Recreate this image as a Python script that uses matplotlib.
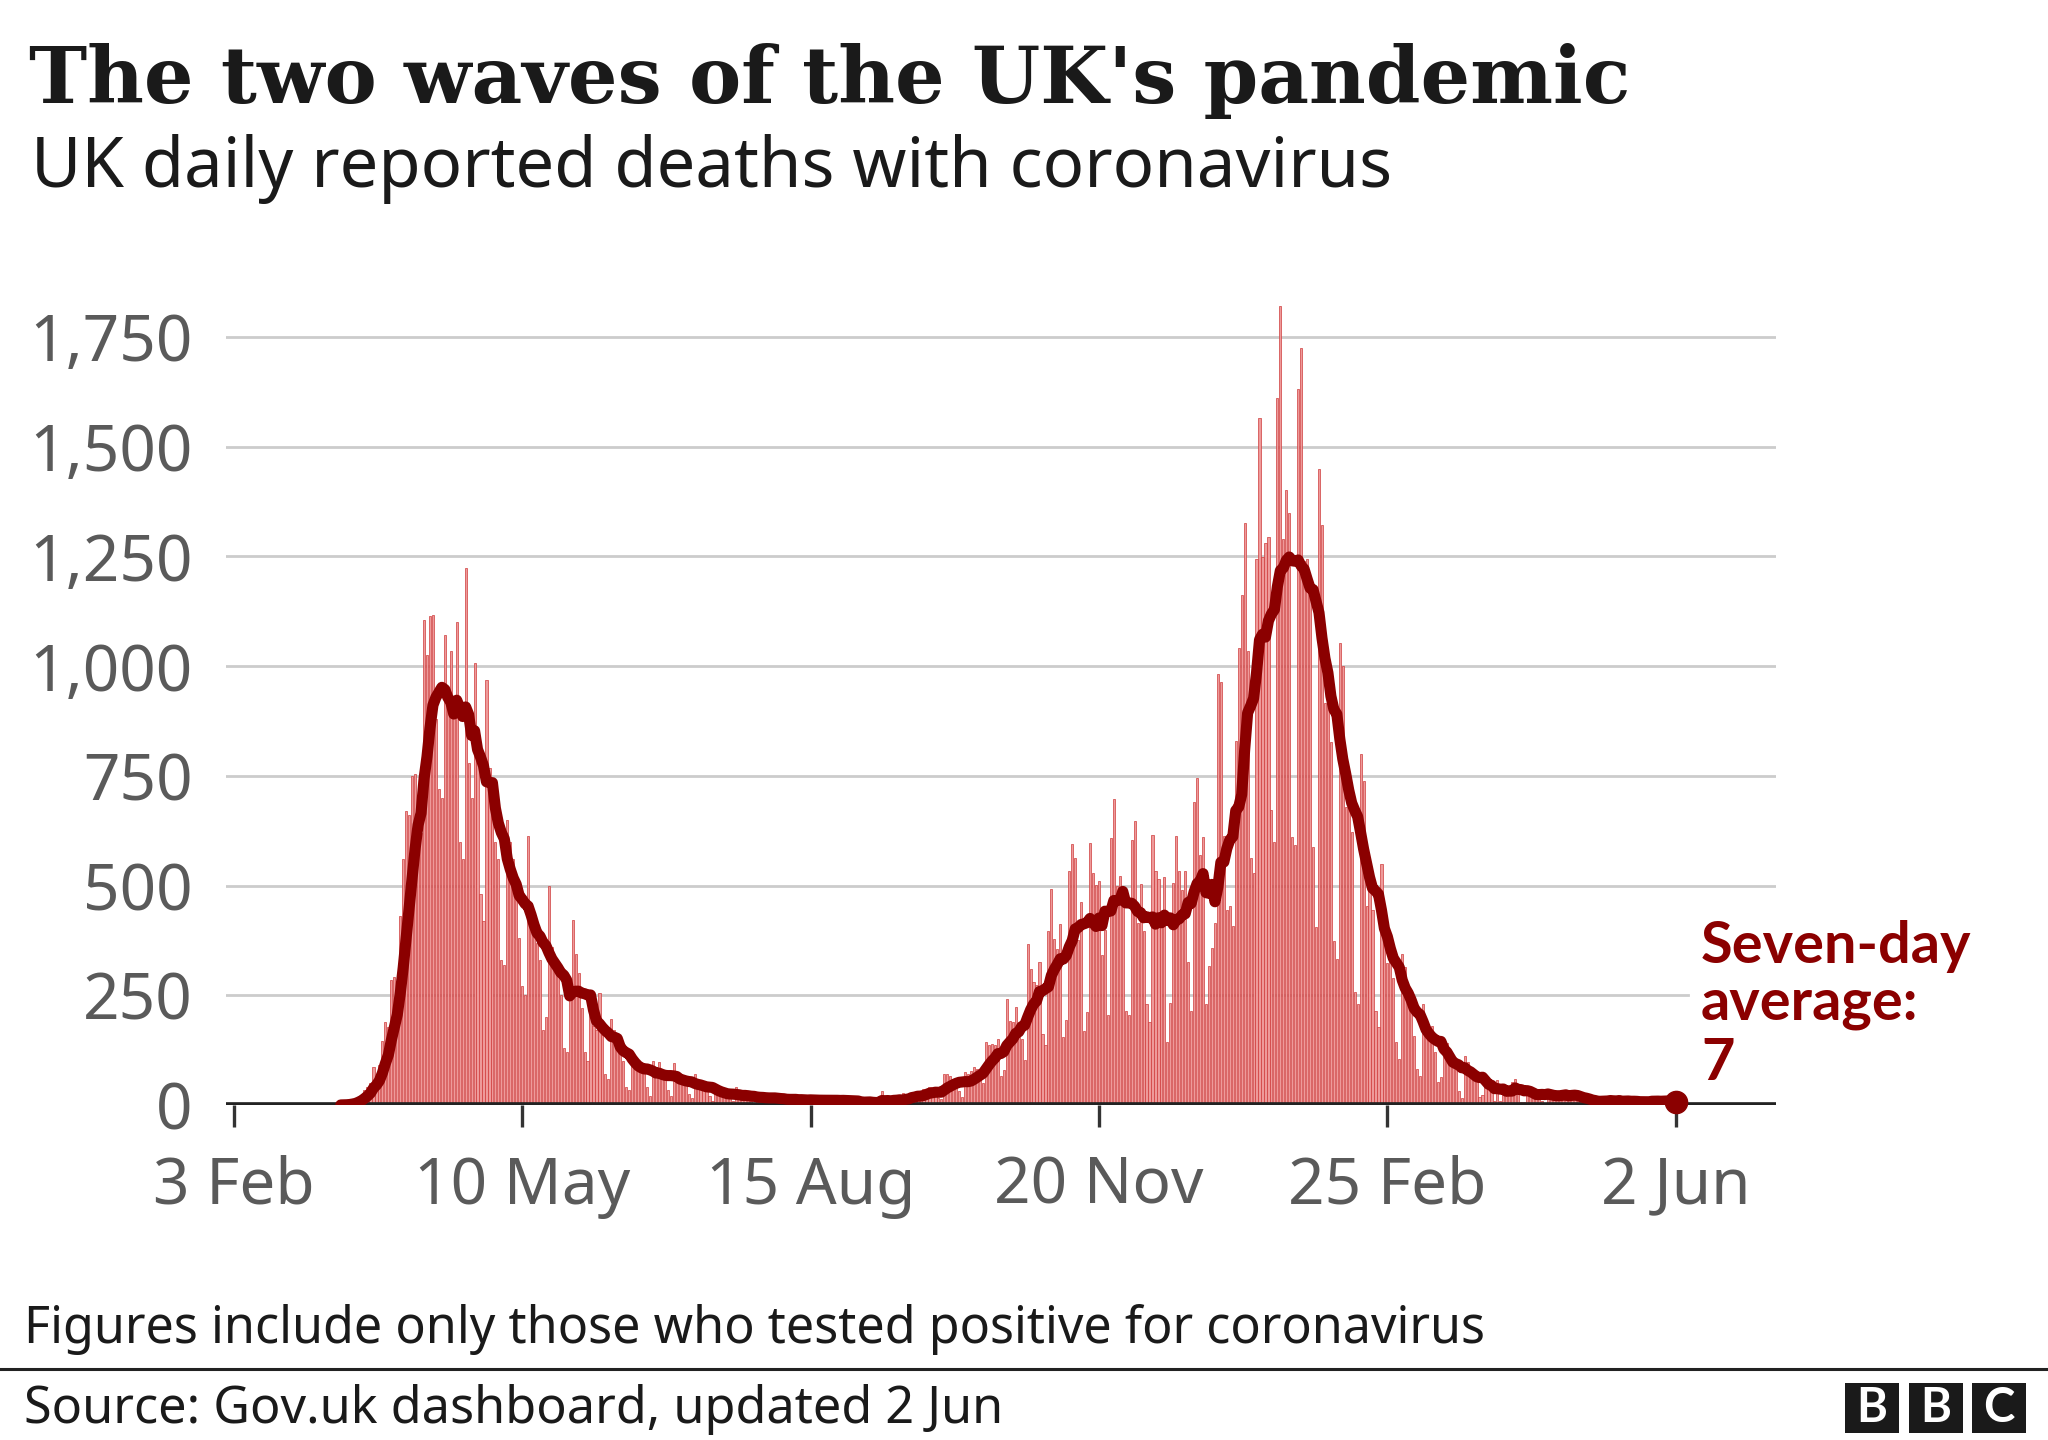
import numpy as np
import pandas as pd
import matplotlib
matplotlib.use("Agg")
from matplotlib import pyplot as plt
from matplotlib.patches import Rectangle

start_date = "2020-02-03"

# daily reported deaths, one row per week (Mon..Sun)
weekly_deaths = [
    [0, 0, 0, 0, 0, 0, 0],  # 3 Feb 2020
    [0, 0, 0, 0, 0, 0, 0],  # 10 Feb
    [0, 0, 0, 0, 0, 0, 0],  # 17 Feb
    [0, 0, 0, 0, 0, 0, 0],  # 24 Feb
    [0, 0, 0, 0, 0, 0, 0],  # 2 Mar
    [0, 1, 1, 2, 4, 8, 10],  # 9 Mar
    [20, 25, 35, 42, 50, 87, 60],  # 16 Mar
    [90, 146, 188, 177, 285, 292, 260],  # 23 Mar
    [430, 560, 670, 660, 750, 755, 640],  # 30 Mar
    [620, 1105, 1026, 1113, 1117, 880, 720],  # 6 Apr
    [700, 1070, 900, 1035, 930, 1100, 600],  # 13 Apr
    [560, 1223, 780, 700, 1006, 800, 480],  # 20 Apr
    [420, 968, 767, 700, 600, 560, 330],  # 27 Apr
    [320, 650, 600, 560, 500, 380, 270],  # 4 May
    [250, 612, 460, 400, 370, 330, 170],  # 11 May
    [200, 500, 360, 330, 300, 250, 130],  # 18 May
    [120, 250, 422, 343, 300, 220, 120],  # 25 May
    [100, 250, 180, 170, 256, 160, 70],  # 1 Jun
    [60, 195, 170, 150, 120, 100, 40],  # 8 Jun
    [35, 120, 110, 100, 90, 80, 40],  # 15 Jun
    [20, 100, 80, 99, 70, 65, 35],  # 22 Jun
    [20, 95, 70, 60, 55, 50, 25],  # 29 Jun
    [15, 70, 55, 50, 40, 35, 20],  # 6 Jul
    [10, 45, 30, 30, 25, 20, 15],  # 13 Jul
    [8, 40, 25, 20, 25, 15, 8],  # 20 Jul
    [5, 30, 20, 18, 20, 12, 8],  # 27 Jul
    [5, 25, 15, 15, 12, 10, 8],  # 3 Aug
    [5, 20, 15, 12, 10, 12, 6],  # 10 Aug
    [4, 18, 14, 12, 10, 12, 6],  # 17 Aug
    [3, 16, 15, 10, 9, 8, 5],  # 24 Aug
    [1, 3, 10, 12, 10, 2, 2],  # 31 Aug
    [3, 32, 8, 14, 6, 9, 5],  # 7 Sep
    [9, 27, 20, 21, 27, 18, 18],  # 14 Sep
    [11, 37, 37, 40, 34, 27, 17],  # 21 Sep
    [13, 71, 71, 66, 59, 49, 33],  # 28 Sep
    [19, 76, 70, 77, 87, 81, 65],  # 5 Oct
    [50, 143, 137, 138, 136, 150, 67],  # 12 Oct
    [80, 241, 191, 189, 224, 174, 151],  # 19 Oct
    [102, 367, 310, 280, 274, 326, 162],  # 26 Oct
    [136, 397, 492, 378, 355, 413, 156],  # 2 Nov
    [194, 532, 595, 563, 376, 462, 168],  # 9 Nov
    [213, 598, 529, 501, 511, 341, 398],  # 16 Nov
    [206, 608, 696, 498, 521, 479, 215],  # 23 Nov
    [205, 603, 648, 414, 504, 397, 231],  # 30 Nov
    [189, 616, 533, 516, 424, 519, 144],  # 7 Dec
    [232, 506, 612, 532, 489, 534, 326],  # 14 Dec
    [215, 691, 744, 570, 610, 230, 316],  # 21 Dec
    [357, 414, 981, 964, 613, 445, 454],  # 28 Dec
    [407, 830, 1041, 1162, 1325, 1035, 563],  # 4 Jan 2021
    [529, 1243, 1564, 1248, 1280, 1295, 671],  # 11 Jan
    [599, 1610, 1820, 1290, 1401, 1348, 610],  # 18 Jan
    [592, 1631, 1725, 1239, 1245, 1200, 587],  # 25 Jan
    [406, 1449, 1322, 915, 1014, 828, 373],  # 1 Feb
    [333, 1052, 1001, 678, 758, 621, 258],  # 8 Feb
    [230, 799, 738, 454, 533, 445, 215],  # 15 Feb
    [178, 548, 442, 323, 345, 290, 144],  # 22 Feb
    [104, 343, 315, 242, 236, 158, 82],  # 1 Mar
    [65, 231, 190, 175, 181, 121, 52],  # 8 Mar
    [64, 110, 141, 95, 101, 96, 33],  # 15 Mar
    [17, 112, 98, 70, 63, 58, 19],  # 22 Mar
    [23, 56, 43, 52, 10, 58, 10],  # 29 Mar
    [26, 20, 45, 53, 60, 34, 7],  # 5 Apr
    [7, 23, 33, 30, 34, 32, 10],  # 12 Apr
    [4, 33, 22, 18, 29, 32, 17],  # 19 Apr
    [11, 17, 29, 22, 23, 15, 1],  # 26 Apr
    [1, 4, 13, 13, 11, 17, 2],  # 3 May
    [4, 11, 9, 11, 17, 7, 4],  # 10 May
    [5, 7, 9, 9, 12, 6, 4],  # 17 May
    [5, 15, 10, 10, 10, 8, 6],  # 24 May
]
last_days = [1, 0, 13]  # 31 May, 1 Jun, 2 Jun

tick_dates = ["2020-02-03", "2020-05-10", "2020-08-15",
              "2020-11-20", "2021-02-25", "2021-06-02"]
tick_labels = ["3 Feb", "10 May", "15 Aug", "20 Nov", "25 Feb", "2 Jun"]
y_ticks = [0, 250, 500, 750, 1000, 1250, 1500, 1750]

title = "The two waves of the UK's pandemic"
subtitle = "UK daily reported deaths with coronavirus"
note = "Figures include only those who tested positive for coronavirus"
source = "Source: Gov.uk dashboard, updated 2 Jun"

BAR_FACE = "#ee9a9a"
BAR_EDGE = "#cf3b3b"
LINE_RED = "#8b0000"
GREY = "#5a5a5a"
BOLD_SANS = ["Lato", "DejaVu Sans"]
W, H = 2048, 1440


def fit_width(fig, txt, width_px):
    r = fig.canvas.get_renderer()
    bb = txt.get_window_extent(r)
    txt.set_fontsize(txt.get_fontsize() * width_px / bb.width)


def main():
    deaths = [v for week in weekly_deaths for v in week] + last_days
    dates = pd.date_range(start_date, periods=len(deaths), freq="D")
    s = pd.Series(deaths, index=dates)
    avg = s.rolling(7, min_periods=1).mean()
    avg[s.cumsum() == 0] = np.nan

    fig = plt.figure(figsize=(W / 100, H / 100), dpi=100)
    ax = fig.add_axes([226 / W, 335 / H, 1550 / W, 834 / H])

    t0 = pd.Timestamp(start_date)
    ax.set_xlim(t0 - pd.Timedelta(days=2.6), t0 + pd.Timedelta(days=518.7))
    ax.set_ylim(0, 1900)

    for v in y_ticks[1:]:
        ax.axhline(v, color="#cccccc", lw=2, zorder=1,
                   xmax=0.943 if v == 250 else 1)

    ax.bar(dates, deaths, width=0.72, color=BAR_FACE, edgecolor=BAR_EDGE,
           linewidth=0.5, zorder=2)
    ax.axhline(0, color="#222222", lw=4.8, zorder=3)
    ax.plot(dates, avg.values, color=LINE_RED, lw=8, zorder=4,
            solid_capstyle="round", solid_joinstyle="round")
    ax.plot([dates[-1]], [avg.values[-1]], "o", ms=16, color=LINE_RED,
            zorder=5, clip_on=False)

    for sp in ax.spines.values():
        sp.set_visible(False)

    ax.set_yticks(y_ticks)
    ax.set_yticklabels(["{:,}".format(v) for v in y_ticks])
    ax.set_xticks(pd.to_datetime(tick_dates))
    ax.set_xticklabels(tick_labels)
    ax.tick_params(axis="y", length=0, pad=24, labelsize=46, labelcolor=GREY)
    ax.tick_params(axis="x", length=16, width=2.4, color="#333333", pad=20,
                   labelsize=46, labelcolor=GREY)
    for lab in ax.get_xticklabels() + ax.get_yticklabels():
        lab.set_fontfamily("Noto Sans")

    t = fig.text(29 / W, 1 - 103 / H, title, fontfamily="DejaVu Serif",
                 fontweight="bold", fontsize=56, color="#1a1a1a", va="baseline")
    fit_width(fig, t, 1603)
    st = fig.text(31 / W, 1 - 187 / H, subtitle, fontfamily="Noto Sans",
                  fontsize=45, color="#1a1a1a", va="baseline")
    fit_width(fig, st, 1362)

    size = 40
    for txt, yb in [("Seven-day", 963), ("average:", 1020), ("7", 1080)]:
        lt = fig.text(1701 / W, 1 - yb / H, txt, fontfamily=BOLD_SANS,
                      fontweight="bold", fontsize=size, color=LINE_RED,
                      va="baseline")
        if txt == "Seven-day":
            fit_width(fig, lt, 270)
            size = lt.get_fontsize()

    nt = fig.text(24 / W, 1 - 1343 / H, note, fontfamily="Noto Sans",
                  fontsize=34, color="#1a1a1a", va="baseline")
    fit_width(fig, nt, 1462)
    so = fig.text(24 / W, 1 - 1423 / H, source, fontfamily="Noto Sans",
                  fontsize=34, color="#1a1a1a", va="baseline")
    fit_width(fig, so, 979)

    fig.add_artist(plt.Line2D([0, 1], [1 - 1369 / H, 1 - 1369 / H],
                              color="#222222", lw=2.2))

    for i, letter in enumerate("BBC"):
        x0 = 1845 + i * 63.5
        fig.add_artist(Rectangle((x0 / W, 7 / H), 54 / W, 50 / H,
                                 color="#1a1a1a", lw=0))
        fig.text((x0 + 27) / W, 32 / H, letter, color="white",
                 fontfamily=BOLD_SANS, fontweight="bold", fontsize=34,
                 ha="center", va="center")

    fig.savefig("out.png", dpi=100, facecolor="white")


if __name__ == "__main__":
    main()
